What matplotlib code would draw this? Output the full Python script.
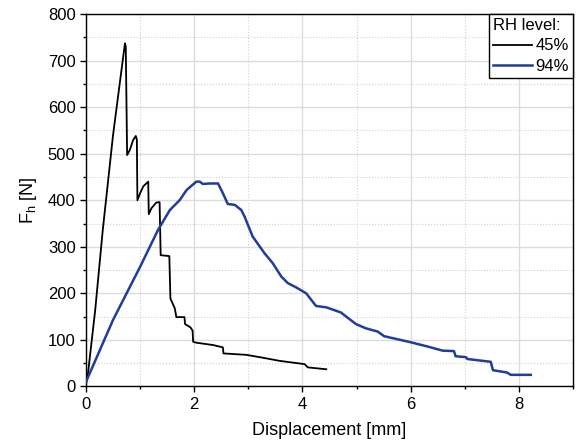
import numpy as np
import matplotlib
matplotlib.use("Agg")
import matplotlib.pyplot as plt
from matplotlib.ticker import MultipleLocator

plt.rcParams['font.family'] = ['Liberation Sans', 'DejaVu Sans']

# RH 45 % - displacement [mm], force [N]
disp_45 = [0.0, 0.03, 0.17, 0.31, 0.50, 0.72, 0.735, 0.76, 0.81, 0.87, 0.92,
           0.94, 0.95, 1.00, 1.06, 1.15, 1.16, 1.21, 1.30, 1.36, 1.38, 1.54,
           1.56, 1.64, 1.67, 1.82, 1.83, 1.93, 1.97, 1.98, 2.04, 2.35, 2.53,
           2.54, 2.96, 3.21, 3.58, 4.04, 4.10, 4.44]
force_45 = [5, 21, 164, 336, 540, 737, 730, 497, 508, 529, 538,
            530, 400, 415, 430, 440, 370, 383, 395, 396, 282, 280,
            189, 168, 149, 149, 134, 127, 120, 96, 94, 89, 84,
            71, 68, 63, 55, 48, 41, 37]

# RH 94 %
disp_94 = [0.0, 0.50, 1.00, 1.33, 1.55, 1.73, 1.86, 2.04, 2.10, 2.16, 2.29,
           2.44, 2.53, 2.62, 2.75, 2.87, 2.93, 3.08, 3.30, 3.45, 3.61, 3.73,
           3.88, 4.07, 4.25, 4.44, 4.71, 4.81, 4.99, 5.17, 5.39, 5.51, 5.66,
           6.00, 6.34, 6.59, 6.80, 6.83, 7.02, 7.05, 7.48, 7.52, 7.78, 7.85,
           8.22]
force_94 = [10, 143, 257, 336, 379, 400, 422, 440, 440, 435, 436,
            436, 415, 392, 390, 379, 365, 322, 286, 265, 236, 222,
            213, 200, 173, 170, 159, 150, 134, 125, 118, 108, 104,
            95, 85, 77, 76, 65, 63, 59, 53, 35, 30, 25,
            25]

fig = plt.figure(figsize=(5.76, 4.48), dpi=100)
ax = fig.add_axes([0.1493, 0.1373, 0.8455, 0.8315])

ax.plot(disp_45, force_45, color='black', lw=1.3, label='45%', zorder=3)
ax.plot(disp_94, force_94, color='#1f3d99', lw=1.8, label='94%', zorder=3)

ax.set_xlim(0, 9)
ax.set_ylim(0, 800)
ax.xaxis.set_major_locator(MultipleLocator(2))
ax.xaxis.set_minor_locator(MultipleLocator(1))
ax.yaxis.set_major_locator(MultipleLocator(100))
ax.yaxis.set_minor_locator(MultipleLocator(50))

ax.grid(which='major', color='#dcdcdc', lw=1.0, ls='-')
ax.grid(which='minor', color='#d0d0d0', lw=0.8, ls=':')
ax.set_axisbelow(True)

ax.tick_params(which='major', direction='out', length=4, width=1.0, labelsize=12)
ax.tick_params(which='minor', direction='out', length=2.5, width=1.0)
for s in ax.spines.values():
    s.set_linewidth(1.0)

ax.set_xlabel('Displacement [mm]', fontsize=13, labelpad=7)
ax.set_ylabel('F$_\\mathregular{h}$ [N]', fontsize=13, labelpad=6)

leg = ax.legend(title='RH level:', loc='upper right', fontsize=12, title_fontsize=12,
                frameon=True, fancybox=False, edgecolor='black', framealpha=1,
                borderaxespad=0, borderpad=0.25, handlelength=2.35, handletextpad=0.2,
                labelspacing=0.32, alignment='left')
leg.get_frame().set_linewidth(1.0)

fig.savefig('out.png', dpi=100)
